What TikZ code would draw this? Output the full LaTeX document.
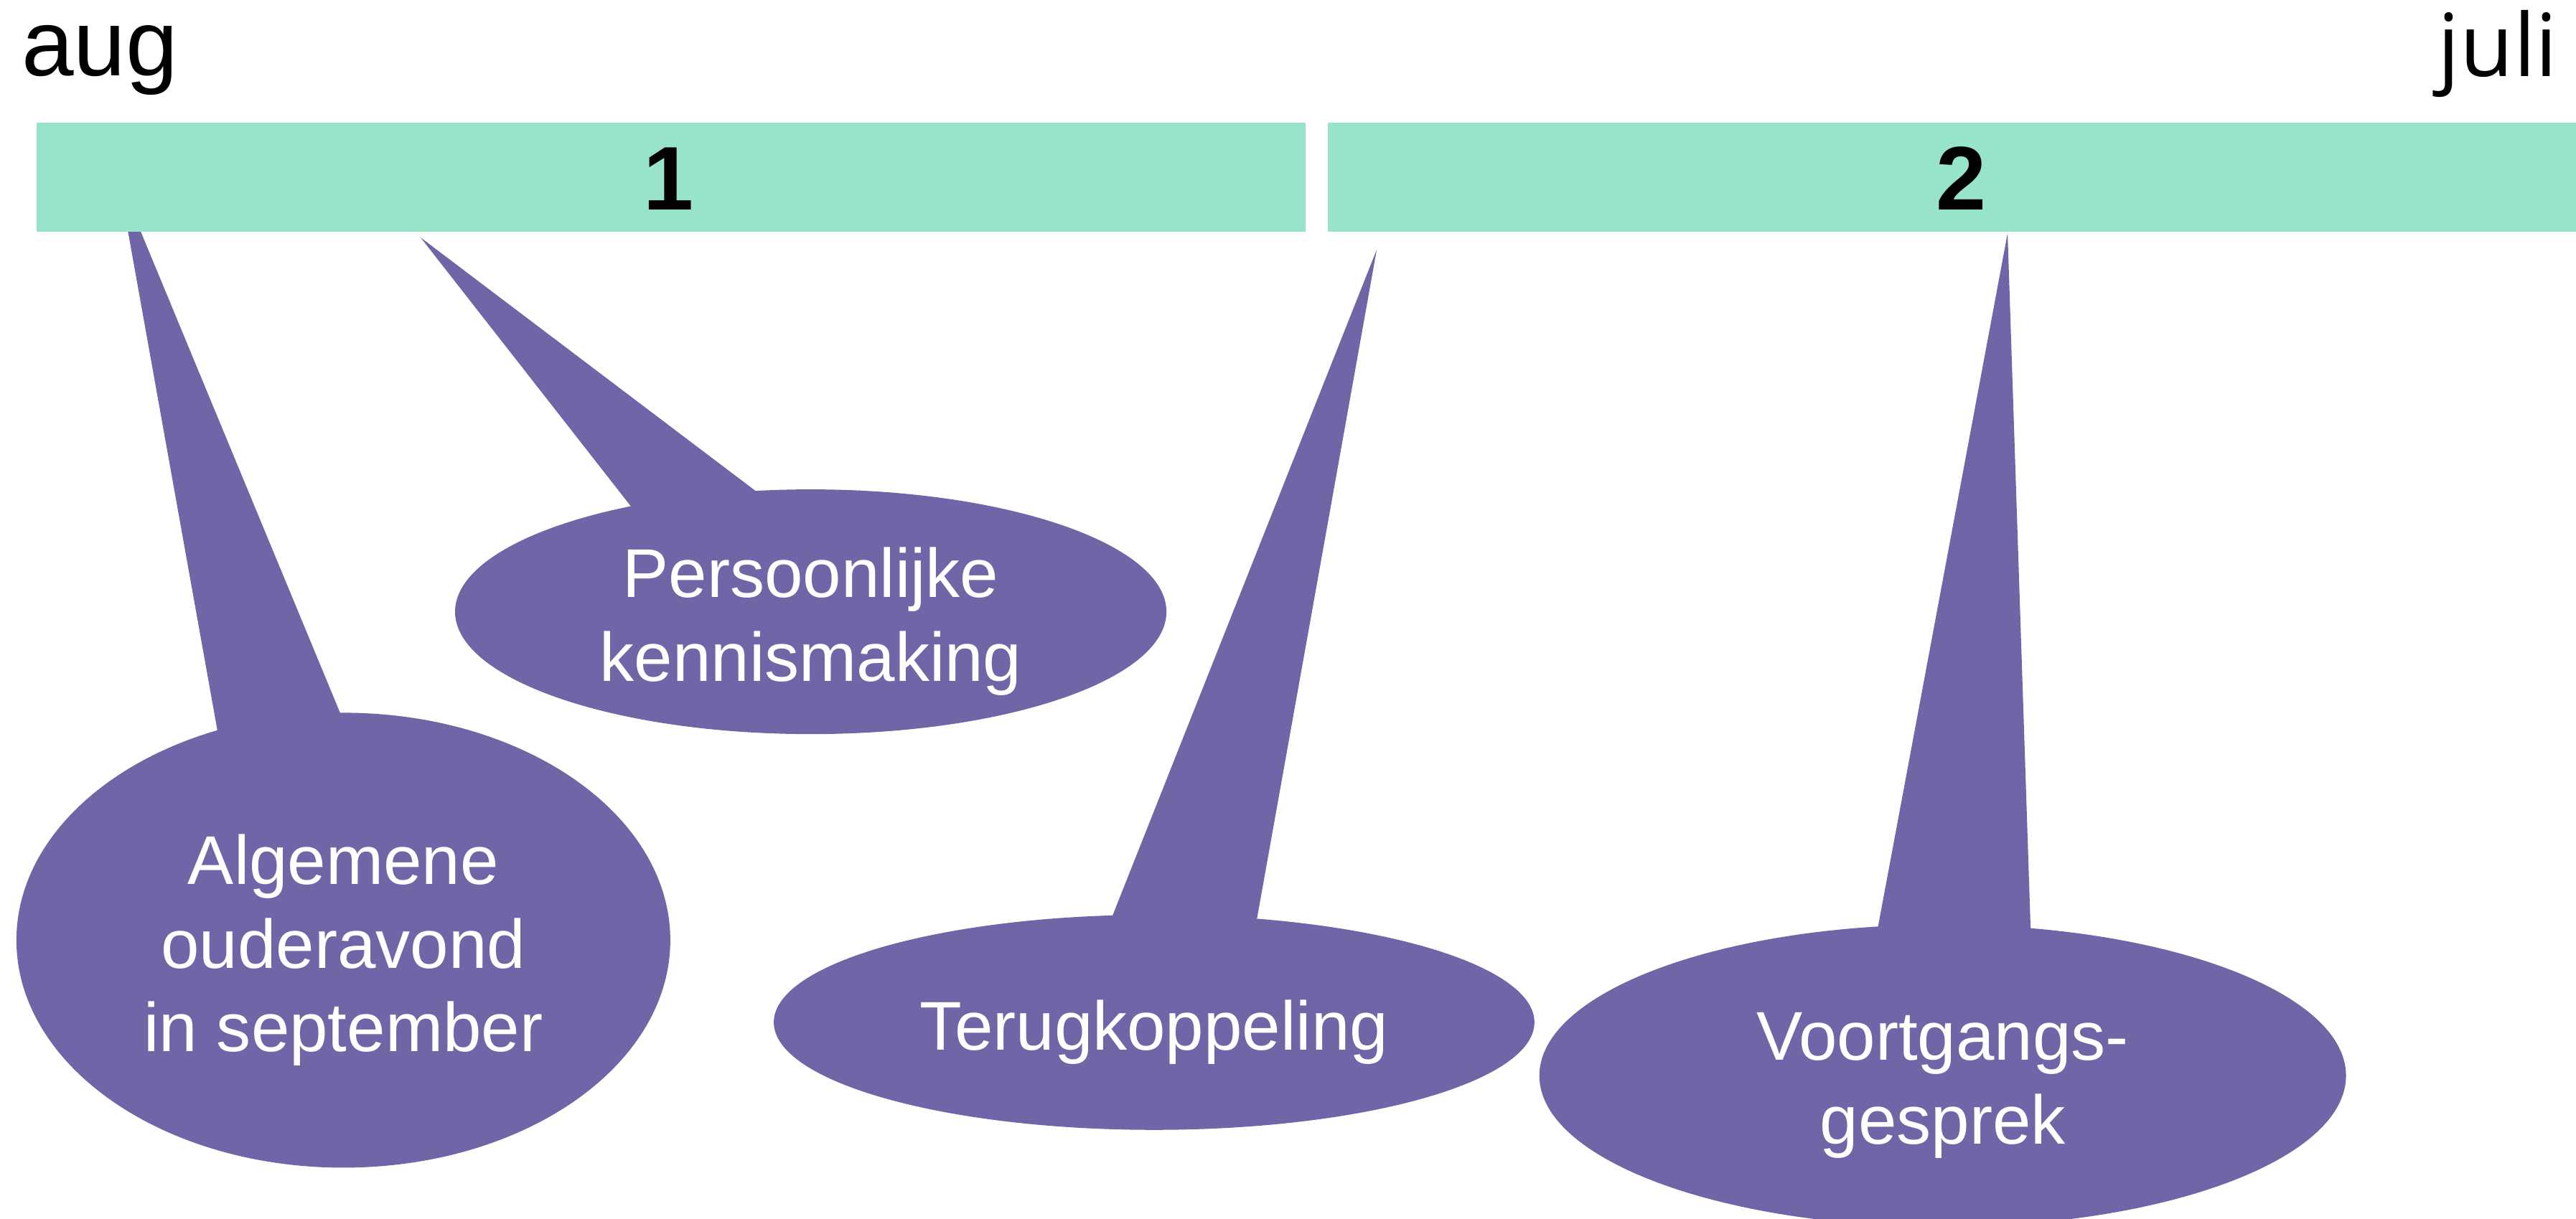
\documentclass[tikz,border=0pt]{standalone}
\usepackage{fontspec}
\setmainfont{Liberation Sans}
\newfontfamily\julifont{Open Sans}
\usetikzlibrary{shapes.geometric,calc}
\definecolor{mint}{RGB}{152,228,203}
\definecolor{callout}{RGB}{111,102,168}
\begin{document}
\begin{tikzpicture}[x=1pt,y=-1pt,
  barbox/.style={fill=mint, draw=none, inner sep=0pt, anchor=north west, minimum height=66.4pt},
  bignum/.style={inner sep=0pt, font=\fontsize{55}{60}\selectfont\bfseries},
  bubble/.style={ellipse, fill=callout, draw=none, inner sep=0pt},
  bubbletext/.style={inner sep=0pt, text=white, align=center, font=\fontsize{42}{51}\selectfont},
  tailshape/.style={fill=callout, draw=none}]
\useasboundingbox (0,0) rectangle (1568,742);
\clip (0,0) rectangle (1568,742);

% month labels
\node[anchor=base west, inner sep=0pt, font=\fontsize{57}{60}\selectfont] (aug) at (13,46) {aug};
\node[anchor=base east, inner sep=0pt, font=\julifont\fontsize{53}{60}\selectfont] (juli) at (1557,46.7) {juli};

% tail coordinates
\coordinate (tipA) at (72,108);
\coordinate (a1) at (132,443);
\coordinate (a2) at (207,434);
\coordinate (tipP) at (256,144.6);
\coordinate (p1) at (383,307);
\coordinate (p2) at (460,299);
\coordinate (tipT) at (838,152);
\coordinate (t1) at (677,558);
\coordinate (t2) at (765,560);
\coordinate (tipV) at (1222,142);
\coordinate (v1) at (1143,565);
\coordinate (v2) at (1236,565);

% tails
\fill[tailshape] (tipA) -- ($(tipA)!1.1!(a1)$) -- ($(tipA)!1.1!(a2)$) -- cycle;
\fill[tailshape] (tipP) -- ($(tipP)!1.1!(p1)$) -- ($(tipP)!1.1!(p2)$) -- cycle;
\fill[tailshape] (tipT) -- ($(tipT)!1.1!(t1)$) -- ($(tipT)!1.1!(t2)$) -- cycle;
\fill[tailshape] (tipV) -- ($(tipV)!1.1!(v1)$) -- ($(tipV)!1.1!(v2)$) -- cycle;

% bars
\node[barbox, minimum width=772.7pt] (bar1) at (22,74.3) {};
\node[barbox, minimum width=762pt] (bar2) at (808,74.3) {};
\node[bignum] (n1) at (407,109) {1};
\node[bignum] (n2) at (1194,108.7) {2};

% bubbles
\node[bubble, minimum width=398pt, minimum height=277pt] (alg) at (209,572.5) {};
\node[bubble, minimum width=433pt, minimum height=149pt] (pers) at (493.5,372.5) {};
\node[bubble, minimum width=463pt, minimum height=131pt] (terug) at (702.5,622.5) {};
\node[bubble, minimum width=491pt, minimum height=184pt] (voort) at (1182.5,655) {};

% bubble texts
\node[bubbletext] (algtxt) at ([yshift=-6pt]alg.center) {Algemene\\ouderavond\\in september};
\node[bubbletext] (perstxt) at ([yshift=-6pt]pers.center) {Persoonlijke\\kennismaking};
\node[bubbletext] (terugtxt) at ([yshift=-6pt]terug.center) {Terugkoppeling};
\node[bubbletext] (voorttxt) at ([yshift=-6pt]voort.center) {Voortgangs-\\gesprek};
\end{tikzpicture}
\end{document}
